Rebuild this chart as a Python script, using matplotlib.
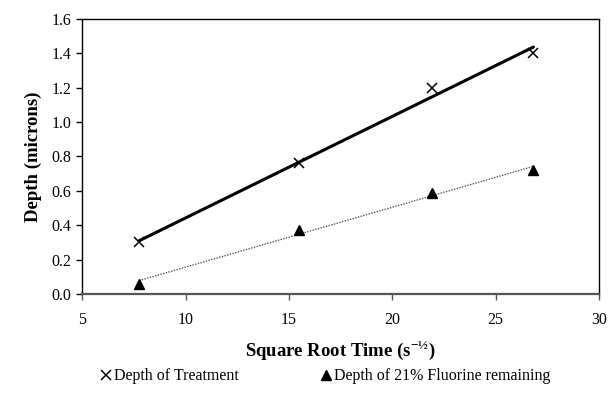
import matplotlib
matplotlib.use("Agg")
import matplotlib.pyplot as plt
import numpy as np
from matplotlib.lines import Line2D

plt.rcParams['font.family'] = ['Liberation Serif', 'DejaVu Serif']
plt.rcParams['mathtext.fontset'] = 'custom'
plt.rcParams['mathtext.rm'] = 'Liberation Serif'
plt.rcParams['mathtext.bf'] = 'Liberation Serif:bold'

# square root of time for each sample
sqrt_time = [7.75, 15.49, 21.91, 26.83]
# depths in microns
depth_treatment = [0.30, 0.76, 1.20, 1.40]
depth_fluorine = [0.06, 0.37, 0.59, 0.72]

x_ticks = [5, 10, 15, 20, 25, 30]
y_ticks = [0.0, 0.2, 0.4, 0.6, 0.8, 1.0, 1.2, 1.4, 1.6]


def trend(x, y):
    # straight least squares line across the data range
    k, b = np.polyfit(x, y, 1)
    xs = np.array([min(x), max(x)])
    return xs, k * xs + b


fig = plt.figure(figsize=(6.09, 3.95), dpi=100)
ax = fig.add_axes([0.1351, 0.2557, 0.8485, 0.6962])

tx, ty = trend(sqrt_time, depth_treatment)
ax.plot(tx, ty, color='black', lw=2.2, solid_capstyle='round')
fx, fy = trend(sqrt_time, depth_fluorine)
ax.plot(fx, fy, color='#555555', lw=1.0, linestyle=(0, (1, 1)))

ax.plot(sqrt_time, depth_treatment, 'x', color='black', ms=7.5, mew=1.1)
ax.plot(sqrt_time, depth_fluorine, '^', color='black', ms=7.5, mec='black')

ax.set_xlim(5, 30)
ax.set_ylim(0, 1.6)
ax.set_xticks(x_ticks)
ax.set_yticks(y_ticks)
ax.set_yticklabels(['%.1f' % v for v in y_ticks])

ax.tick_params(axis='x', direction='out', length=4, width=1, pad=9,
               labelsize=11.5, color='#555555')
ax.tick_params(axis='y', direction='out', length=4, width=1, pad=4,
               labelsize=11.5)

for side in ['left', 'top', 'right']:
    ax.spines[side].set_color('black')
    ax.spines[side].set_linewidth(1.0)
ax.spines['bottom'].set_color('#555555')
ax.spines['bottom'].set_linewidth(1.6)

ax.set_ylabel('Depth (microns)', fontsize=13.5, fontweight='bold', labelpad=7)
ax.set_xlabel(r'Square Root Time (s$^{\mathbf{-½}}$)', fontsize=13.5,
              fontweight='bold', labelpad=7)

handles = [
    Line2D([], [], marker='x', color='black', linestyle='none', ms=7, mew=1.1),
    Line2D([], [], marker='^', color='black', linestyle='none', ms=6.5),
]
fig.legend(handles, ['Depth of Treatment', 'Depth of 21% Fluorine remaining'],
           loc='center', bbox_to_anchor=(0.535, 0.047), ncol=2, frameon=False,
           fontsize=11.5, handlelength=0.6, handletextpad=0.2,
           columnspacing=5.2)

fig.savefig('out.png', dpi=100)
